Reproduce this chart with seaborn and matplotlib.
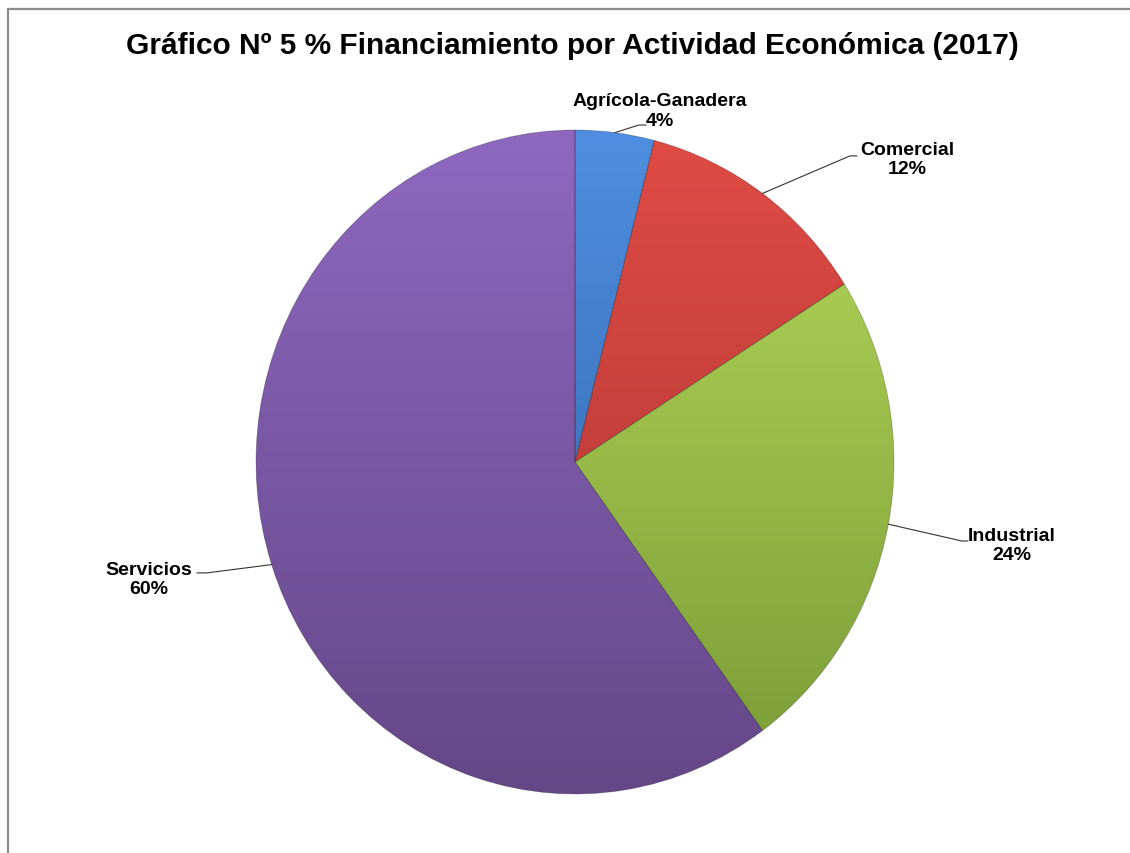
import numpy as np
import matplotlib
matplotlib.use("Agg")
import matplotlib.pyplot as plt
import matplotlib.colors as mcolors
from matplotlib.lines import Line2D
import seaborn as sns

# data
categories = ['Agrícola-Ganadera', 'Comercial', 'Industrial', 'Servicios']
shares = [4, 12, 24, 60]
title = 'Gráfico Nº 5 % Financiamiento por Actividad Económica (2017)'

# colours: lighter at the top of the pie, darker at the bottom
top_colors = ['#4f8ee0', '#e04b45', '#b4d95a', '#8e68bf']
bottom_colors = ['#2f5f9f', '#a83430', '#7a9a36', '#654788']

# label centres and leader lines (elbow, end) in pie units
label_pos = [(0.266, 1.059), (1.041, 0.913), (1.370, -0.250), (-1.335, -0.352)]
leader_elbow = [(0.200, 1.015), (0.862, 0.922), (1.213, -0.238), (-1.154, -0.334)]
leader_end = [(0.223, 1.015), (0.884, 0.922), (1.232, -0.238), (-1.185, -0.334)]

sns.set_theme(style="white")
plt.rcParams['font.family'] = ['Liberation Sans', 'DejaVu Sans']

fig = plt.figure(figsize=(11.3, 8.54), dpi=100)
W, H = 1130, 854
cx, cy, rx, ry = 575, 463, 319, 332
ax = fig.add_axes([(cx - rx) / W, (H - cy - ry) / H, 2 * rx / W, 2 * ry / H])

wedges, _ = ax.pie(shares, startangle=90, counterclock=False,
                   colors=top_colors, wedgeprops=dict(linewidth=0))

# vertical gradient inside each wedge
yy = np.linspace(1, -1, 400)[:, None]
t = (1 - yy) / 2
for w, c0, c1 in zip(wedges, top_colors, bottom_colors):
    a = np.array(mcolors.to_rgb(c0))
    b = np.array(mcolors.to_rgb(c1))
    img = (a[None, None, :] * (1 - t[..., None]) + b[None, None, :] * t[..., None])
    img = np.repeat(img, 2, axis=1)
    im = ax.imshow(img, extent=[-1, 1, -1, 1], aspect='auto', zorder=2)
    im.set_clip_path(w)
    w.set_facecolor('none')
    w.set_edgecolor((0, 0, 0, 0.25))
    w.set_linewidth(0.6)
    w.set_zorder(3)

# labels with leader lines
cum = np.cumsum([0] + shares[:-1])
total = sum(shares)
for i, (cat, val) in enumerate(zip(categories, shares)):
    mid = np.deg2rad(90 - (cum[i] + val / 2) / total * 360)
    x0, y0 = np.cos(mid), np.sin(mid)
    ex, ey = leader_elbow[i]
    fx, fy = leader_end[i]
    ax.plot([x0, ex, fx], [y0, ey, fy], color='#333333', lw=0.8,
            clip_on=False, zorder=4)
    lx, ly = label_pos[i]
    ax.text(lx, ly, f'{cat}\n{val}%', ha='center', va='center',
            fontsize=14, fontweight='bold', color='black',
            linespacing=1.2, zorder=5)

ax.set_aspect('auto')
ax.set_xlim(-1, 1)
ax.set_ylim(-1, 1)
ax.axis('off')

fig.text(572 / W, 1 - 46 / H, title, ha='center', va='center',
         fontsize=21.5, fontweight='bold', color='black')

# chart frame (left and top edges visible)
fig.add_artist(Line2D([7.5 / W, 7.5 / W], [0, 1 - 10 / H], color='#8c8c8c', lw=1.6))
fig.add_artist(Line2D([7.5 / W, 1], [1 - 10 / H, 1 - 10 / H], color='#8c8c8c', lw=1.6))

fig.savefig('out.png', dpi=100, facecolor='white')
